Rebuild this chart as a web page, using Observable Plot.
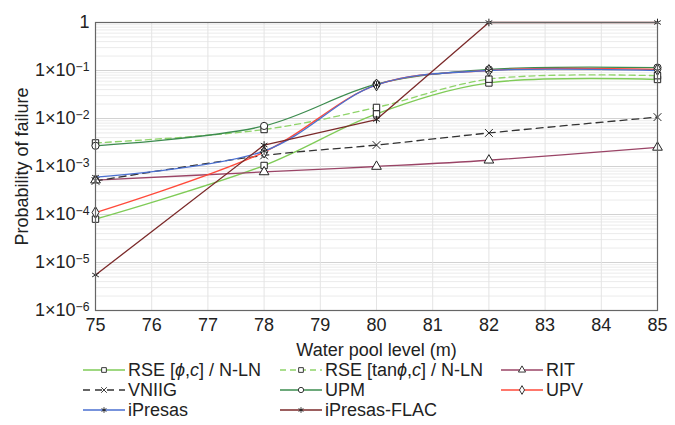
<!DOCTYPE html>
<html><head><meta charset="utf-8">
<script src="https://cdn.jsdelivr.net/npm/d3@7"></script>
<script src="https://cdn.jsdelivr.net/npm/@observablehq/plot@0.6"></script>
<style>
body{margin:0;background:#fff;font-family:"Liberation Sans",Arial,sans-serif;}
#legend{position:relative;width:675px;height:62px;}
.item{position:absolute;display:flex;align-items:center;height:20px;font-size:18px;color:#222;white-space:nowrap;}
.item svg{margin-right:3px;}
</style></head><body>
<div id="chart"></div><div id="legend"></div>
<script>
// Water pool levels (m)
const levels = [75, 78, 80, 82, 85];
// Probability of failure per method
const rsePhi   = [8.0e-5, 1.05e-3, 1.25e-2, 5.5e-2, 6.5e-2];
const rseTan   = [3.1e-3, 5.9e-3, 1.7e-2, 6.6e-2, 7.8e-2];
const rit      = [5.2e-4, 7.7e-4, 1.0e-3, 1.35e-3, 2.5e-3];
const vniig    = [5.0e-4, 1.7e-3, 2.8e-3, 5.0e-3, 1.07e-2];
const upm      = [2.7e-3, 7.0e-3, 5.2e-2, 1.05e-1, 1.15e-1];
const upv      = [1.1e-4, 2.0e-3, 5.0e-2, 1.0e-1, 1.05e-1];
const ipresas  = [6.0e-4, 2.1e-3, 5.0e-2, 1.0e-1, 1.0e-1];
const flac     = [5.5e-6, 2.8e-3, 9.5e-3, 1.0, 1.0];

const seriesLabels = ["RSE [<i>ϕ</i>,<i>c</i>] / N-LN", "RSE [tan<i>ϕ</i>,<i>c</i>] / N-LN", "RIT", "VNIIG", "UPM", "UPV", "iPresas", "iPresas-FLAC"];
const seriesValues = [rsePhi, rseTan, rit, vniig, upm, upv, ipresas, flac];
const seriesColors = ["#7fcb57", "#8fd46a", "#9a4466", "#333333", "#3d8c4f", "#ff4a3a", "#4a6fd0", "#7b2a2a"];
const seriesDash   = [null, "6,4", null, "7,5", null, null, null, null];
const seriesSymbol = ["square", "square", "triangle", "times", "circle", "diamond", "asterisk", "asterisk"];
const seriesCurve  = ["catmull-rom", "catmull-rom", "catmull-rom", "catmull-rom", "catmull-rom", "catmull-rom", "catmull-rom", "linear"];

const xTicks = [75, 76, 77, 78, 79, 80, 81, 82, 83, 84, 85];
const yTicks = [1e-6, 1e-5, 1e-4, 1e-3, 1e-2, 1e-1, 1];
const yMinor = d3.scaleLog().domain([1e-6, 1]).ticks().filter(v => !yTicks.some(t => Math.abs(t - v) / t < 1e-9));

const series = seriesValues.map((vals, i) => levels.map((lv, j) => ({level: lv, p: vals[j], s: i})));

const marks = [
  Plot.gridY(yMinor, {stroke: "#e6e6e6", strokeOpacity: 1, strokeWidth: 0.8}),
  Plot.gridY(yTicks, {stroke: "#d2d2d2", strokeOpacity: 1}),
  Plot.gridX(xTicks, {stroke: "#e4e4e4", strokeOpacity: 1})
];
series.forEach((rows, i) => {
  marks.push(Plot.line(rows, {x: "level", y: "p", stroke: seriesColors[i], strokeWidth: 1.3, strokeDasharray: seriesDash[i], curve: seriesCurve[i]}));
});
series.forEach((rows, i) => {
  const sym = seriesSymbol[i];
  const strokeOnly = sym === "times" || sym === "asterisk";
  marks.push(Plot.dot(rows, {x: "level", y: "p", symbol: sym, r: 3.6, stroke: "#222", strokeWidth: 1, fill: strokeOnly ? "none" : "white"}));
});
marks.push(Plot.frame({stroke: "#666", strokeWidth: 1.2}));
marks.push(Plot.axisX({ticks: xTicks, tickSize: 0, tickPadding: 8, tickFormat: d => String(d),
  label: "Water pool level (m)", labelAnchor: "center", labelArrow: "none", labelOffset: 45}));
marks.push(Plot.axisY({ticks: yTicks, tickSize: 0, tickPadding: 6,
  tickFormat: d => d === 1 ? "1" : "1×10^−" + Math.round(-Math.log10(d)),
  label: "Probability of failure", labelAnchor: "center", labelArrow: "none", labelOffset: 80}));

const chart = Plot.plot({
  width: 675, height: 360,
  marginLeft: 95, marginRight: 18, marginTop: 22, marginBottom: 50,
  style: {fontFamily: "'Liberation Sans', Arial, sans-serif", fontSize: "18px", color: "#222", background: "white"},
  x: {domain: [75, 85]},
  y: {type: "log", domain: [1e-6, 1]},
  marks
});
document.getElementById("chart").appendChild(chart);

// superscript exponents on y tick labels
d3.select(chart).selectAll('g[aria-label="y-axis tick label"] text').each(function() {
  const t = this.textContent;
  const k = t.indexOf("^");
  if (k < 0) return;
  const sel = d3.select(this);
  sel.text(t.slice(0, k));
  sel.append("tspan").attr("dy", "-0.45em").attr("font-size", "0.68em").text(t.slice(k + 1));
});

// legend
const colX = [83, 280, 501];
const rowY = [0, 20, 40];
const symMap = {square: d3.symbolSquare, triangle: d3.symbolTriangle, times: d3.symbolTimes, circle: d3.symbolCircle, diamond: d3.symbolDiamond, asterisk: d3.symbolAsterisk};
const legend = d3.select("#legend");
seriesLabels.forEach((lab, i) => {
  const item = legend.append("div").attr("class", "item")
    .style("left", colX[i % 3] + "px").style("top", rowY[Math.floor(i / 3)] + "px");
  const svg = item.append("svg").attr("width", 42).attr("height", 14);
  svg.append("line").attr("x1", 0).attr("x2", 42).attr("y1", 7).attr("y2", 7)
    .attr("stroke", seriesColors[i]).attr("stroke-width", 1.3).attr("stroke-dasharray", seriesDash[i]);
  const sym = seriesSymbol[i];
  const strokeOnly = sym === "times" || sym === "asterisk";
  svg.append("path").attr("transform", "translate(21,7)")
    .attr("d", d3.symbol(symMap[sym], 22)())
    .attr("fill", strokeOnly ? "none" : "white").attr("stroke", "#222").attr("stroke-width", 0.9);
  item.append("span").html(lab);
});
</script>
</body></html>
